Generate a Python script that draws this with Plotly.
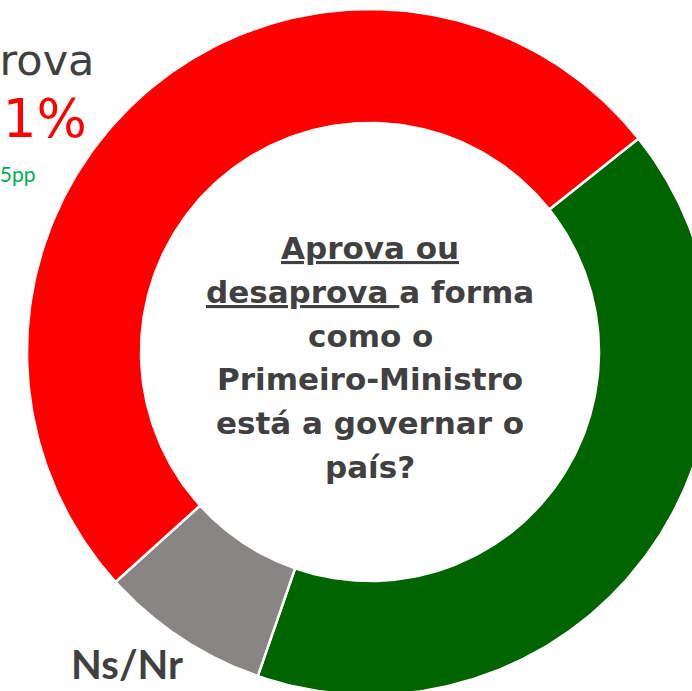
import numpy as np
import plotly.graph_objects as go

# ---- data ----
categories = ["Aprova", "Ns/Nr", "Desaprova"]
values = [41, 8, 51]
colors = ["#006400", "#898584", "#FF0000"]

question_lines = [
    "<u>Aprova ou</u>",
    "<u>desaprova </u>a forma",
    "como o",
    "Primeiro-Ministro",
    "está a governar o",
    "país?",
]
desaprova_label = "Desaprova"
desaprova_pct = "51%"
desaprova_change = "-5pp"
nsnr_label = "Ns/Nr"

# ---- layout geometry (pixels) ----
W, H = 692, 691
CX, CY = 370, 352
R_OUT, R_IN = 343, 229
START_DEG = 51.5
TEXT = "#404040"

fig = go.Figure()

total = float(sum(values))
a0 = START_DEG
for cat, v, col in zip(categories, values, colors):
    a1 = a0 + 360.0 * v / total
    t = np.radians(np.linspace(a0, a1, 200))
    xo = CX + R_OUT * np.sin(t)
    yo = CY - R_OUT * np.cos(t)
    xi = CX + R_IN * np.sin(t[::-1])
    yi = CY - R_IN * np.cos(t[::-1])
    xs = np.concatenate([xo, xi, xo[:1]])
    ys = np.concatenate([yo, yi, yo[:1]])
    fig.add_trace(go.Scatter(
        x=xs, y=ys, mode="lines", fill="toself", fillcolor=col,
        line=dict(color="white", width=2.5), name=cat,
        hoverinfo="name", showlegend=False,
    ))
    a0 = a1

# center question text
line_y0, line_dy = 248, 43.8
for i, txt in enumerate(question_lines):
    fig.add_annotation(
        x=CX, y=line_y0 + i * line_dy, xref="x", yref="y",
        text="<b>" + txt + "</b>", showarrow=False,
        xanchor="center", yanchor="middle",
        font=dict(family="DejaVu Sans", size=31, color=TEXT),
    )

# Desaprova label (partly cut off on the left)
fig.add_annotation(x=96, y=60, xref="x", yref="y", text=desaprova_label,
                   showarrow=False, xanchor="right", yanchor="middle",
                   font=dict(family="DejaVu Sans", size=43, color=TEXT))
fig.add_annotation(x=89, y=118, xref="x", yref="y", text=desaprova_pct,
                   showarrow=False, xanchor="right", yanchor="middle",
                   font=dict(family="DejaVu Sans", size=53, color="#FF0000"))
fig.add_annotation(x=38, y=173, xref="x", yref="y", text=desaprova_change,
                   showarrow=False, xanchor="right", yanchor="middle",
                   font=dict(family="Lato", size=21, color="#00B050"))
fig.add_annotation(x=127, y=664, xref="x", yref="y", text="<b>" + nsnr_label + "</b>",
                   showarrow=False, xanchor="center", yanchor="middle",
                   font=dict(family="Lato", size=40, color=TEXT))

fig.update_layout(
    width=W, height=H,
    margin=dict(l=0, r=0, t=0, b=0),
    paper_bgcolor="white", plot_bgcolor="white",
    xaxis=dict(range=[0, W], visible=False, fixedrange=True),
    yaxis=dict(range=[H, 0], visible=False, fixedrange=True),
    showlegend=False,
)

fig.write_html(
    "out.html",
    config={"displayModeBar": False},
    post_script="document.body.style.margin='0';document.body.style.overflow='hidden';",
)
